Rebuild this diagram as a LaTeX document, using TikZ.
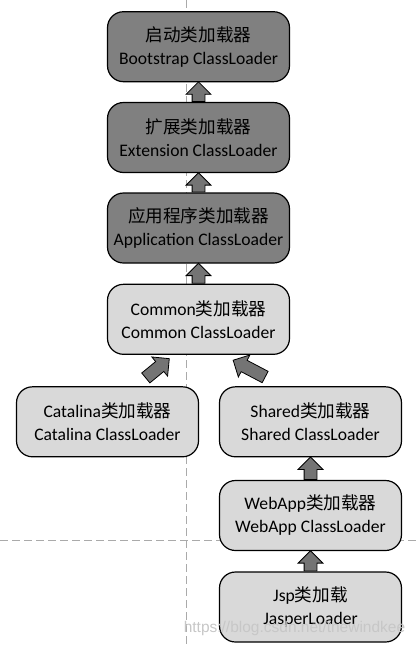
\documentclass[tikz,border=0pt]{standalone}
\usepackage{fontspec}
\setmainfont{Carlito}
\newfontfamily\cjk{Noto Sans CJK SC}
\newfontfamily\wmfont{Liberation Sans}
\usepackage{tikz}
\usetikzlibrary{shapes.arrows,positioning,calc}

\definecolor{sysgray}{RGB}{128,128,128}
\definecolor{tomgray}{RGB}{217,217,217}
\definecolor{arrowgray}{RGB}{116,116,116}
\definecolor{guidegray}{RGB}{170,170,170}

\tikzset{
  loader/.style={draw=black, line width=1.2pt, rounded corners=16pt, minimum width=182pt, minimum height=70pt, align=center, font=\fontsize{17.6}{23}\selectfont},
  sysloader/.style={loader, fill=sysgray},
  tomloader/.style={loader, fill=tomgray},
  blockarrow/.style={single arrow, draw=black, line width=0.8pt, fill=arrowgray, inner sep=0pt, single arrow head extend=6pt},
  guide/.style={draw=guidegray, dash pattern=on 8pt off 4pt, line width=1pt}
}

\begin{document}
\begin{tikzpicture}[x=1pt, y=-1pt]
        \useasboundingbox (0,0) rectangle (417,646);

        % Guide lines
        \draw[guide] (186,0) -- (186,646);
        \draw[guide] (0,540) -- (417,540);

        % JVM loaders
        \foreach \n/\y/\cn/\en in {boot/46.7/启动类加载器/Bootstrap, ext/137.5/扩展类加载器/Extension, app/228/应用程序类加载器/Application}
        \node[sysloader] (\n) at (198.5, \y) {{\cjk \cn}\\\en{} ClassLoader};

        % Tomcat loaders
        \node[tomloader] (com) at (198.5, 319.3) {Common{\cjk 类加载器}\\Common ClassLoader};
        \node[tomloader] (cat) at (107.5, 421.8) {Catalina{\cjk 类加载器}\\Catalina ClassLoader};
        \node[tomloader] (sha) at (310.5, 421.8) {Shared{\cjk 类加载器}\\Shared ClassLoader};
        \node[tomloader] (web) at (310.5, 515.5) {WebApp{\cjk 类加载器}\\WebApp ClassLoader};
        \node[tomloader] (jsp) at (310.5, 607) {Jsp{\cjk 类加载}\\JasperLoader};

        % Ends of the slanted arrows
        \coordinate (catTail) at ($(cat.north)+(38,-8)$);
        \coordinate (catTip) at ($(com.south)+(-29.5,4)$);
        \coordinate (shaTail) at ($(sha.north)+(-45,-9)$);
        \coordinate (shaTip) at ($(com.south)+(35,5.5)$);

        % Arrows
        \foreach \a/\b in {ext.north/boot.south, app.north/ext.south, com.north/app.south, catTail/catTip, shaTail/shaTip, web.north/sha.south, jsp.north/web.south}
        \path let \p1=(\a), \p2=(\b), \n1={veclen(\x2-\x1,\y2-\y1)} in
          (\p1) -- (\p2) node[blockarrow, pos=0, anchor=tail, sloped, allow upside down, minimum height=\n1] {\rule{0pt}{12pt}};

        % Watermark
        \node[font=\wmfont\fontsize{15.5}{16}\selectfont, text=black!22] (mark) at (294.5, 628) {https://blog.csdn.net/thewindkee};
\end{tikzpicture}
\end{document}
